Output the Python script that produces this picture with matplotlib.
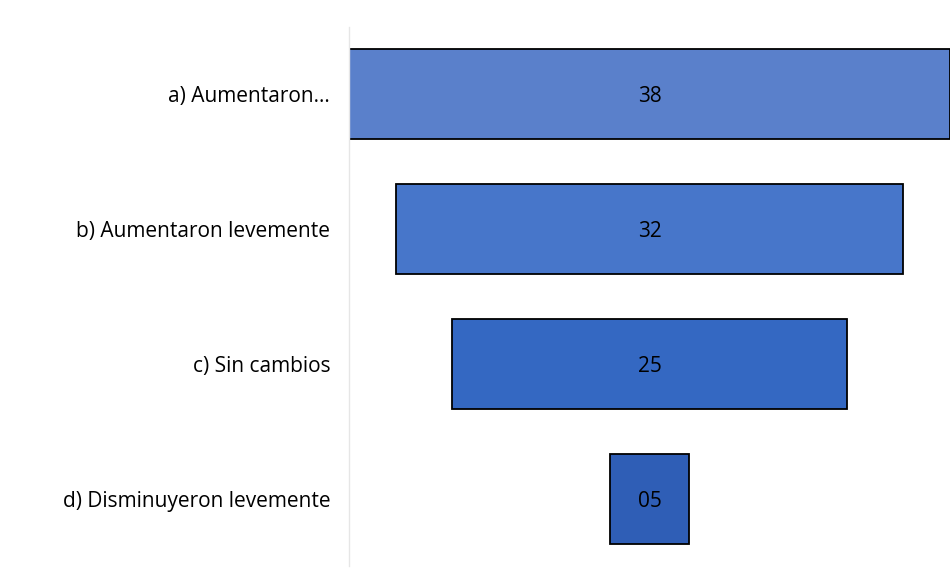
import matplotlib
matplotlib.use('Agg')
import matplotlib.pyplot as plt

categories = ['a) Aumentaron...', 'b) Aumentaron levemente', 'c) Sin cambios', 'd) Disminuyeron levemente']
values = [38, 32, 25, 5]
labels = ['38', '32', '25', '05']
colors = ['#5A80CB', '#4776CA', '#3468C2', '#2F5EB6']

plt.rcParams['font.family'] = ['Open Sans', 'DejaVu Sans']

fig = plt.figure(figsize=(9.53, 5.69), dpi=100)
ax = fig.add_axes([0.3662, 0.0044, 0.6307, 0.949])

pos = range(len(values))
lefts = [-v / 2 for v in values]
ax.barh(pos, values, left=lefts, height=0.667, color=colors,
        edgecolor='black', linewidth=1.3)
for i, (v, lab) in enumerate(zip(values, labels)):
    ax.text(0, i, lab, ha='center', va='center_baseline', fontsize=15, color='black')

ax.set_xlim(-19, 19)
ax.set_ylim(3.5, -0.5)
ax.set_yticks(list(pos))
ax.set_yticklabels(categories, fontsize=15)
ax.tick_params(axis='y', length=0, pad=13.5)
ax.set_xticks([])
for s in ['top', 'right', 'bottom']:
    ax.spines[s].set_visible(False)
ax.spines['left'].set_color('#e6e6e6')
ax.spines['left'].set_linewidth(1)

fig.savefig('out.png', dpi=100)
